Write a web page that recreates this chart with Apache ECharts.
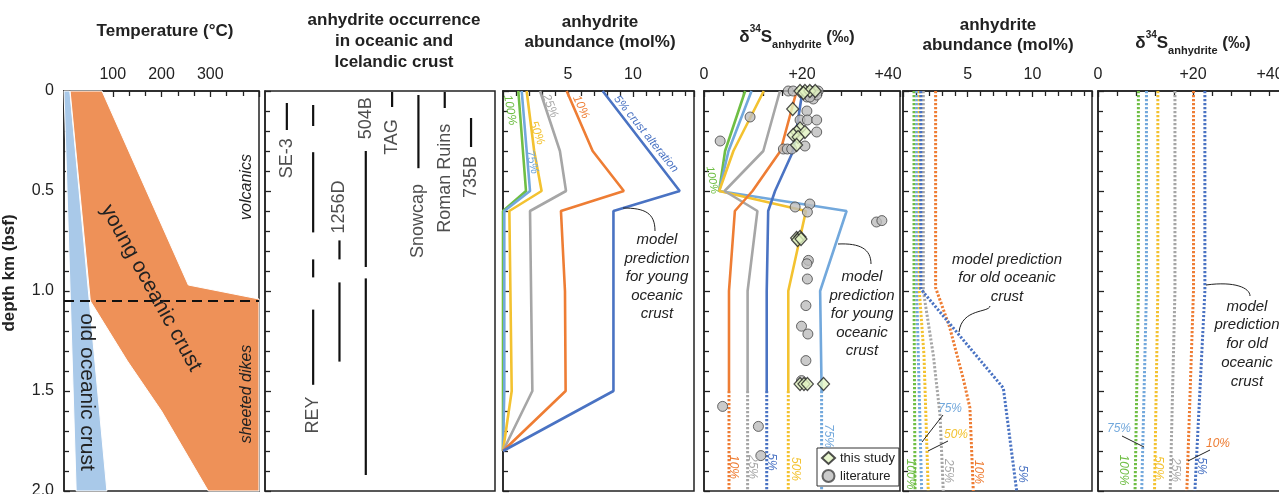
<!DOCTYPE html>
<html><head><meta charset="utf-8">
<script src="https://cdn.jsdelivr.net/npm/echarts@6/dist/echarts.min.js"></script>
<style>html,body{margin:0;padding:0;background:#fff;overflow:hidden}#c{width:1279px;height:494px}</style>
</head><body><div id="c"></div>
<script>
// ================= DATA =================
// Panel 1: temperature (°C) vs depth (km)
const oldCrustTemp = [[0,0],[12,0],[88,2],[25,2]];
const youngCrustTemp = [[12.5,0],[78,0],[255,0.97],[400,1.04],[400,2],[296,2],[200,1.6],[130,1.35],[54,1.05]];
const transitionLine = [[0,1.05],[400,1.05]];

// Panel 2: anhydrite occurrence intervals [siteIndex, top km, bottom km]
const sites = ['SE-3','REY','1256D','504B','TAG','Snowcap','Roman Ruins','735B'];
const occurrence = [
  [0,0.06,0.195],
  [1,0.07,0.175],[1,0.306,0.707],[1,0.842,0.932],[1,1.093,1.469],
  [2,0.747,0.842],[2,0.957,1.353],
  [3,0.30,0.88],[3,0.937,1.92],
  [4,0.005,0.08],
  [5,0.02,0.386],
  [6,0.005,0.085],
  [7,0.135,0.28]
];
const siteLabelDepth = [0.336,1.62,0.58,0.136,0.23,0.65,0.436,0.43];

// Panel 3: anhydrite abundance (mol%) young crust, by % crust alteration
const youngAbund100 = [[1.18,0],[1.77,0.5],[0,0.6],[0,1.8]];
const youngAbund75  = [[1.44,0],[2.08,0.5],[0.1,0.6],[0.1,1.5],[0,1.8]];
const youngAbund50  = [[1.82,0],[2.4,0.3],[2.97,0.5],[0.49,0.6],[0.67,1.5],[0,1.8]];
const youngAbund25  = [[2.85,0],[4.38,0.3],[4.85,0.5],[2.08,0.6],[2.26,1.5],[0,1.8]];
const youngAbund10  = [[4.9,0],[6.9,0.3],[9.3,0.5],[4.46,0.6],[4.77,1.0],[4.82,1.5],[0,1.8]];
const youngAbund5   = [[7.67,0],[13.6,0.5],[8.5,0.6],[8.5,1.5],[0,1.8]];

// Panel 4: d34S anhydrite young crust
const youngS100 = [[8.4,0],[4.3,0.3],[3.1,0.5]];
const youngS75  = [[9.7,0],[5.0,0.3],[3.1,0.5],[29.1,0.6],[23.7,1.0],[24.0,1.5]];
const youngS50  = [[12.2,0],[6.0,0.3],[3.1,0.5],[20.8,0.6],[17.2,1.0],[17.2,1.5]];
const youngS25  = [[15.5,0],[12.1,0.3],[4.2,0.5],[10.9,0.6],[8.9,1.0],[8.9,1.5]];
const youngS10  = [[18.9,0],[15.6,0.3],[9.9,0.5],[6.3,0.6],[5.1,1.0],[5.1,1.5]];
const youngS5   = [[20.1,0],[18.2,0.3],[14.5,0.5],[13.1,0.6],[12.8,1.0],[12.8,1.5]];
const youngSDeep75 = [[24.0,1.5],[24.0,2.0]];
const youngSDeep50 = [[17.2,1.5],[17.2,2.0]];
const youngSDeep25 = [[8.9,1.5],[8.9,2.0]];
const youngSDeep10 = [[5.1,1.5],[5.1,2.0]];
const youngSDeep5  = [[12.8,1.5],[12.8,2.0]];
const literature = [
  [17.2,0.0],[18.2,0.0],[21.6,0.0],[22.7,0.0],[23.3,0.0],[21.0,0.03],[22.3,0.04],[23.0,0.02],[21.6,0.03],
  [9.4,0.13],[21.0,0.10],[19.6,0.145],[21.1,0.145],[23.0,0.145],[3.3,0.25],[23.0,0.205],[20.6,0.275],
  [16.2,0.29],[17.0,0.29],[17.9,0.29],[18.6,0.58],[21.6,0.565],[21.1,0.605],[35.2,0.655],[36.3,0.648],
  [21.3,0.847],[21.0,0.864],[21.1,0.94],[20.8,1.073],[19.9,1.176],[21.2,1.215],[20.8,1.348],[19.9,1.448],
  [3.8,1.577],[11.1,1.677],[11.6,1.823]
];
const thisStudy = [
  [19.6,0.0],[20.6,0.0],[21.6,0.0],[22.7,0.0],[20.3,0.01],[18.1,0.09],[19.6,0.187],[18.9,0.205],[20.6,0.205],
  [18.2,0.22],[19.2,0.23],[18.9,0.27],[18.9,0.735],[19.6,0.73],[19.1,0.745],[19.8,0.74],
  [19.6,1.465],[20.4,1.465],[21.1,1.465],[24.4,1.465]
];

// Panel 5: anhydrite abundance old crust
const oldAbund100 = [[0.85,0],[0.85,1.0],[0.93,2.0]];
const oldAbund75  = [[1.06,0],[1.06,1.0],[1.44,2.0]];
const oldAbund50  = [[1.26,0],[1.26,1.0],[1.62,1.32],[1.95,2.0]];
const oldAbund25  = [[1.57,0],[1.57,1.0],[2.34,1.32],[2.86,1.62],[3.11,2.0]];
const oldAbund10  = [[2.52,0],[2.52,0.984],[3.6,1.18],[4.66,1.44],[5.17,1.585],[5.43,2.0]];
const oldAbund5   = [[1.37,0],[1.37,0.99],[7.75,1.485],[8.78,2.0]];

// Panel 6: d34S old crust
const oldS100 = [[8.5,0],[8.5,1.0],[7.8,2.0]];
const oldS75  = [[10.2,0],[10.2,1.0],[9.2,2.0]];
const oldS50  = [[12.6,0],[12.6,1.0],[11.9,2.0]];
const oldS25  = [[16.2,0],[16.2,1.0],[15.2,2.0]];
const oldS10  = [[20.1,0],[20.1,1.0],[18.7,2.0]];
const oldS5   = [[22.5,0],[22.5,1.0],[20.4,2.0]];

// ================= STYLE =================
const FF = '"Liberation Sans", Arial, sans-serif';
const COL = {p100:'#6fbe44', p75:'#72a8dc', p50:'#f3c230', p25:'#a6a6a6', p10:'#ee7d34', p5:'#4a73c3'};
const INK = '#222';

const grids = [
  {left:64, top:91, width:195, height:400},
  {left:265, top:91, width:230, height:400},
  {left:503, top:91, width:191, height:400},
  {left:704, top:91, width:196, height:400},
  {left:903, top:91, width:189, height:400},
  {left:1098, top:91, width:190, height:400}
].map(g => Object.assign({show:true, borderColor:INK, borderWidth:1.5, backgroundColor:'transparent', containLabel:false, outerBoundsMode:'none'}, g));

const tickCommon = {
  axisLine:{show:true, onZero:false, lineStyle:{color:INK, width:1.5}},
  axisTick:{show:true, inside:true, length:6, lineStyle:{color:INK, width:1.3}},
  minorTick:{show:true, length:5, lineStyle:{color:INK, width:1.3}},
  splitLine:{show:false}, minorSplitLine:{show:false}
};
const labelFont = {color:INK, fontSize:16, fontFamily:FF, margin:8};

function yAx(i, showLabel){
  return Object.assign({}, tickCommon, {
    gridIndex:i, type:'value', inverse:true, min:0, max:2, interval:0.5,
    minorTick:Object.assign({}, tickCommon.minorTick, {splitNumber:5}),
    axisLabel:Object.assign({}, labelFont, {show:showLabel, margin:10,
      formatter:v => v===0 ? '0' : v.toFixed(1)})
  });
}
function sAxisLabel(shift){
  return Object.assign({}, labelFont, {showMaxLabel:true, showMinLabel:true,
    formatter:v => v===0 ? '0' : (v===40 ? '{r|+40}' : (v===20 ? '+20' : '')),
    rich:{r:{fontSize:16, fontFamily:FF, color:INK, padding:[0,shift,0,0]}}});
}
const xAxes = [
  Object.assign({}, tickCommon, {gridIndex:0, type:'value', position:'top', min:0, max:400, interval:100,
    minorTick:Object.assign({}, tickCommon.minorTick, {splitNumber:3}),
    axisLabel:Object.assign({}, labelFont, {formatter:v => (v>0 && v<400) ? String(v) : ''})}),
  {gridIndex:1, type:'value', min:-0.83, max:7.91, show:false, axisLine:{onZero:false}},
  Object.assign({}, tickCommon, {gridIndex:2, type:'value', position:'top', min:0, max:14.7, interval:5,
    minorTick:Object.assign({}, tickCommon.minorTick, {splitNumber:5}),
    axisLabel:Object.assign({}, labelFont, {formatter:v => (v===5||v===10) ? String(v) : ''})}),
  Object.assign({}, tickCommon, {gridIndex:3, type:'value', position:'top', min:0, max:40, interval:20,
    minorTick:Object.assign({}, tickCommon.minorTick, {splitNumber:5}),
    axisLabel:sAxisLabel(24)}),
  Object.assign({}, tickCommon, {gridIndex:4, type:'value', position:'top', min:0, max:14.6, interval:5,
    minorTick:Object.assign({}, tickCommon.minorTick, {splitNumber:5}),
    axisLabel:Object.assign({}, labelFont, {formatter:v => (v===5||v===10) ? String(v) : ''})}),
  Object.assign({}, tickCommon, {gridIndex:5, type:'value', position:'top', min:0, max:40, interval:20,
    minorTick:Object.assign({}, tickCommon.minorTick, {splitNumber:5}),
    axisLabel:sAxisLabel(36)})
];
const yAxes = [yAx(0,true), yAx(1,false), yAx(2,false), yAx(3,false), yAx(4,false), yAx(5,false)];

function line(idx, data, color, dotted){
  return {type:'line', xAxisIndex:idx, yAxisIndex:idx, data:data, showSymbol:false, symbol:'none',
    silent:true, z:3, lineStyle:{color:color, width: dotted ? 3 : 2.6, type: dotted ? [2.2,1.8] : 'solid', cap:'butt'}};
}
function polySeries(poly, fill){
  return {type:'custom', xAxisIndex:0, yAxisIndex:0, data:[[0,0]], silent:true, z:1,
    renderItem:(p, api) => ({type:'polygon', shape:{points:poly.map(pt => api.coord(pt))},
      style:{fill:fill, stroke:'#fff', lineWidth:1}})};
}

const series = [
  polySeries(oldCrustTemp, '#a9c9e9'),
  polySeries(youngCrustTemp, '#ee9158'),
  {type:'line', xAxisIndex:0, yAxisIndex:0, data:transitionLine, symbol:'none', silent:true, z:4,
    lineStyle:{color:'#111', width:2, type:[10,6]}},
  {type:'custom', xAxisIndex:1, yAxisIndex:1, data:occurrence, encode:{x:0, y:[1,2]}, silent:true,
    renderItem:(p, api) => {
      const a = api.coord([api.value(0), api.value(1)]);
      const b = api.coord([api.value(0), api.value(2)]);
      return {type:'line', shape:{x1:a[0], y1:a[1], x2:b[0], y2:b[1]}, style:{stroke:'#111', lineWidth:2.2}};
    }},
  {type:'scatter', xAxisIndex:1, yAxisIndex:1, symbolSize:1, itemStyle:{color:'rgba(0,0,0,0)'}, silent:true,
    data:sites.map((s,i) => ({name:s, value:[i, siteLabelDepth[i]]})),
    label:{show:true, position:'inside', rotate:90, formatter:p => p.name, fontSize:18, fontFamily:FF, color:INK}},
  line(2, youngAbund100, COL.p100), line(2, youngAbund75, COL.p75), line(2, youngAbund50, COL.p50),
  line(2, youngAbund25, COL.p25), line(2, youngAbund10, COL.p10), line(2, youngAbund5, COL.p5),
  line(3, youngS100, COL.p100), line(3, youngS75, COL.p75), line(3, youngS50, COL.p50),
  line(3, youngS25, COL.p25), line(3, youngS10, COL.p10), line(3, youngS5, COL.p5),
  line(3, youngSDeep75, COL.p75, true), line(3, youngSDeep50, COL.p50, true), line(3, youngSDeep25, COL.p25, true),
  line(3, youngSDeep10, COL.p10, true), line(3, youngSDeep5, COL.p5, true),
  {type:'scatter', name:'literature', xAxisIndex:3, yAxisIndex:3, data:literature, symbol:'circle', symbolSize:10, z:5,
    itemStyle:{color:'#bdbdbd', borderColor:'#444', borderWidth:1}},
  {type:'scatter', name:'this study', xAxisIndex:3, yAxisIndex:3, data:thisStudy, symbol:'diamond', symbolSize:[12,13], z:6,
    itemStyle:{color:'#e2f4c2', borderColor:'#222', borderWidth:1.2}},
  line(4, oldAbund100, COL.p100, true), line(4, oldAbund75, COL.p75, true), line(4, oldAbund50, COL.p50, true),
  line(4, oldAbund25, COL.p25, true), line(4, oldAbund10, COL.p10, true), line(4, oldAbund5, COL.p5, true),
  line(5, oldS100, COL.p100, true), line(5, oldS75, COL.p75, true), line(5, oldS50, COL.p50, true),
  line(5, oldS25, COL.p25, true), line(5, oldS10, COL.p10, true), line(5, oldS5, COL.p5, true)
];

// ================= ANNOTATIONS =================
function txt(text, x, y, o){
  o = o || {};
  return {type:'text', x:x, y:y, rotation:o.rot||0, z:100, silent:true,
    style:{text:text, fill:o.color||INK, fontSize:o.size||15, fontFamily:FF,
      fontWeight:o.bold?'bold':'normal', fontStyle:o.italic?'italic':'normal',
      align:'center', verticalAlign:'middle', textAlign:'center', textVerticalAlign:'middle',
      lineHeight:o.lh, rich:o.rich}};
}
function bez(x1,y1,c1x,c1y,c2x,c2y,x2,y2){
  return {type:'bezierCurve', z:100, silent:true, shape:{x1:x1,y1:y1,cpx1:c1x,cpy1:c1y,cpx2:c2x,cpy2:c2y,x2:x2,y2:y2},
    style:{stroke:INK, lineWidth:1, fill:null}};
}
function seg(x1,y1,x2,y2){
  return {type:'line', z:100, silent:true, shape:{x1:x1,y1:y1,x2:x2,y2:y2}, style:{stroke:INK, lineWidth:1}};
}
const R90 = Math.PI/2;
const deltaRich = {
  a:{fontSize:17, fontWeight:'bold', fontFamily:FF, color:INK, lineHeight:26},
  s:{fontSize:10, fontWeight:'bold', fontFamily:FF, color:INK, lineHeight:12, verticalAlign:'top'},
  u:{fontSize:11, fontWeight:'bold', fontFamily:FF, color:INK, lineHeight:12, verticalAlign:'bottom'}
};
const deltaText = '{a|δ}{s|34}{a|S}{u|anhydrite}{a| (‰)}';
const pct = {italic:true, size:12};
const graphic = [
  txt('Temperature (°C)', 165, 31, {bold:true, size:17}),
  txt('anhydrite occurrence\nin oceanic and\nIcelandic crust', 394, 41, {bold:true, size:17, lh:21}),
  txt('anhydrite\nabundance (mol%)', 600, 32, {bold:true, size:17, lh:20}),
  txt(deltaText, 797, 37, {rich:deltaRich}),
  txt('anhydrite\nabundance (mol%)', 998, 35, {bold:true, size:17, lh:20}),
  txt(deltaText, 1193, 43, {rich:deltaRich}),
  txt('depth km (bsf)', 9, 273, {bold:true, size:17, rot:R90}),
  // panel 1
  txt('young oceanic crust', 151, 288, {size:21, rot:-1.065}),
  txt('old oceanic crust', 87, 392, {size:21, rot:-R90}),
  txt('volcanics', 247, 187, {size:16, italic:true, rot:R90}),
  txt('sheeted dikes', 247, 394, {size:16, italic:true, rot:R90}),
  // panel 3
  txt('100%', 510, 110, Object.assign({color:COL.p100, rot:-1.40}, pct)),
  txt('25%', 550, 106, Object.assign({color:COL.p25, rot:-1.19}, pct)),
  txt('10%', 581, 107, Object.assign({color:COL.p10, rot:-1.13}, pct)),
  txt('50%', 537, 133, Object.assign({color:COL.p50, rot:-1.22}, pct)),
  txt('75%', 532, 162, Object.assign({color:COL.p75, rot:-1.31}, pct)),
  txt('5% crust alteration', 646, 134, Object.assign({color:COL.p5, rot:-0.89}, pct, {size:11.5})),
  txt('model\nprediction\nfor young\noceanic\ncrust', 657, 277, {italic:true, size:15, lh:18.5}),
  bez(623,208, 645,208, 655,213, 655,231),
  // panel 4
  txt('100%', 712, 180, Object.assign({color:COL.p100, rot:-1.40}, pct, {size:11})),
  txt('10%', 733, 467, Object.assign({color:COL.p10, rot:-R90}, pct)),
  txt('25%', 752, 467, Object.assign({color:COL.p25, rot:-R90}, pct)),
  txt('5%', 771, 462, Object.assign({color:COL.p5, rot:-R90}, pct)),
  txt('50%', 795, 469, Object.assign({color:COL.p50, rot:-R90}, pct)),
  txt('75%', 828, 436, Object.assign({color:COL.p75, rot:-R90}, pct)),
  txt('model\nprediction\nfor young\noceanic\ncrust', 862, 314, {italic:true, size:15, lh:18.5}),
  bez(838,244, 860,243, 871,249, 871,264),
  // panel 5
  txt('75%', 950, 409, Object.assign({color:COL.p75}, pct)),
  seg(943,415, 922,442),
  txt('50%', 956, 435, Object.assign({color:COL.p50}, pct)),
  seg(948,441, 928,451),
  txt('100%', 910, 474, Object.assign({color:COL.p100, rot:-R90}, pct)),
  txt('25%', 948, 471, Object.assign({color:COL.p25, rot:-R90}, pct)),
  txt('10%', 978, 472, Object.assign({color:COL.p10, rot:-R90}, pct)),
  txt('5%', 1022, 474, Object.assign({color:COL.p5, rot:-R90}, pct)),
  txt('model prediction\nfor old oceanic\ncrust', 1007, 278, {italic:true, size:15, lh:18.5}),
  bez(990,306, 989,313, 962,308, 959,332),
  // panel 6
  txt('75%', 1119, 429, Object.assign({color:COL.p75}, pct)),
  seg(1122,436, 1144,447),
  txt('10%', 1218, 444, Object.assign({color:COL.p10}, pct)),
  seg(1210,450, 1188,461),
  txt('100%', 1123, 470, Object.assign({color:COL.p100, rot:-R90}, pct)),
  txt('50%', 1158, 468, Object.assign({color:COL.p50, rot:-R90}, pct)),
  txt('25%', 1175, 470, Object.assign({color:COL.p25, rot:-R90}, pct)),
  txt('5%', 1201, 466, Object.assign({color:COL.p5, rot:-R90}, pct)),
  txt('model\nprediction\nfor old\noceanic\ncrust', 1247, 344, {italic:true, size:15, lh:18.8}),
  bez(1206,285, 1235,281, 1250,288, 1250,296)
];

const chart = echarts.init(document.getElementById('c'), null, {renderer:'canvas'});
chart.setOption({
  animation:false,
  backgroundColor:'#fff',
  textStyle:{fontFamily:FF},
  grid:grids, xAxis:xAxes, yAxis:yAxes, series:series, graphic:graphic,
  legend:{data:['this study','literature'], orient:'vertical', left:817, top:448, itemGap:4,
    itemWidth:13, itemHeight:12, padding:[3,4,3,4], borderColor:'#333', borderWidth:1, backgroundColor:'#fff',
    textStyle:{fontSize:13, fontFamily:FF, color:INK}, selectedMode:false, z:20}
});
</script></body></html>
